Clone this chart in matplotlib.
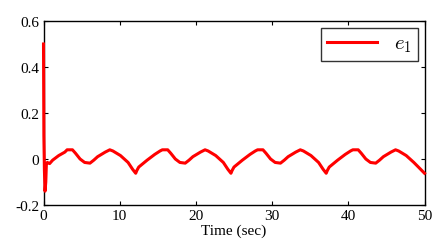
import numpy as np
import matplotlib
matplotlib.use('Agg')
import matplotlib.pyplot as plt

# keypoints
t = [0.0, 0.05, 0.12, 0.2, 0.3, 0.38, 0.5, 0.8, 1.2, 2.0, 2.8, 3.1, 3.8, 4.2, 4.8, 5.4, 6.1, 6.6,
     7.1, 8.1, 8.7, 9.1, 10.1, 11.1, 11.7, 12.1, 12.25, 12.5, 13.6, 14.6, 15.3, 15.6, 16.3, 16.7,
     17.3, 17.9, 18.6, 19.1, 19.6, 20.6, 21.2, 21.6, 22.6, 23.6, 24.2, 24.6, 24.75, 25.0, 26.1,
     27.1, 27.8, 28.1, 28.8, 29.2, 29.8, 30.4, 31.1, 31.6, 32.1, 33.1, 33.7, 34.1, 35.1, 36.1,
     36.7, 37.1, 37.25, 37.5, 38.6, 39.6, 40.3, 40.6, 41.3, 41.7, 42.3, 42.9, 43.6, 44.1, 44.6,
     45.6, 46.2, 46.6, 47.6, 48.6, 49.2, 50.0]
e1 = [0.5, 0.1, -0.05, -0.14, -0.1, -0.02, -0.015, -0.02, -0.005, 0.015, 0.03, 0.04, 0.04, 0.025,
      0.0, -0.015, -0.018, -0.005, 0.01, 0.03, 0.04, 0.035, 0.015, -0.015, -0.045, -0.062, -0.05,
      -0.035, -0.005, 0.02, 0.035, 0.04, 0.04, 0.025, 0.0, -0.015, -0.018, -0.005, 0.01, 0.03,
      0.04, 0.035, 0.015, -0.015, -0.045, -0.062, -0.05, -0.035, -0.005, 0.02, 0.035, 0.04, 0.04,
      0.025, 0.0, -0.015, -0.018, -0.005, 0.01, 0.03, 0.04, 0.035, 0.015, -0.015, -0.045, -0.062,
      -0.05, -0.035, -0.005, 0.02, 0.035, 0.04, 0.04, 0.025, 0.0, -0.015, -0.018, -0.005, 0.01,
      0.03, 0.04, 0.035, 0.015, -0.015, -0.035, -0.062]

xticks = [0, 10, 20, 30, 40, 50]
yticks = [-0.2, 0, 0.2, 0.4, 0.6]
ylabels = ['-0.2', '0', '0.2', '0.4', '0.6']

plt.rcParams['font.family'] = ['Liberation Serif', 'DejaVu Serif']
plt.rcParams['mathtext.fontset'] = 'cm'

fig = plt.figure(figsize=(4.4, 2.53), dpi=100)
ax = fig.add_axes([43.5 / 440, 1 - 206 / 253, (424.5 - 43.5) / 440, (206 - 22) / 253])

# draw above the spine so the start-up spike at t=0 stays visible
ax.plot(t, e1, color='red', lw=2.2, label='$e_1$', zorder=3, clip_on=False)

ax.set_xlim(0, 50)
ax.set_ylim(-0.2, 0.6)
ax.set_xticks(xticks)
ax.set_yticks(yticks)
ax.set_yticklabels(ylabels)
ax.tick_params(direction='in', length=3, width=0.8, top=True, right=True,
               labelsize=11, pad=3)
for s in ax.spines.values():
    s.set_linewidth(1.0)
ax.set_xlabel('Time (sec)', fontsize=11, labelpad=1)

leg = ax.legend(loc='upper right', fontsize=15, frameon=True, fancybox=False,
                edgecolor='black', handlelength=2.4, borderpad=0.3,
                borderaxespad=0, bbox_to_anchor=(0.983, 0.962))
leg.get_frame().set_linewidth(1.0)

fig.savefig('out.png', dpi=100)
